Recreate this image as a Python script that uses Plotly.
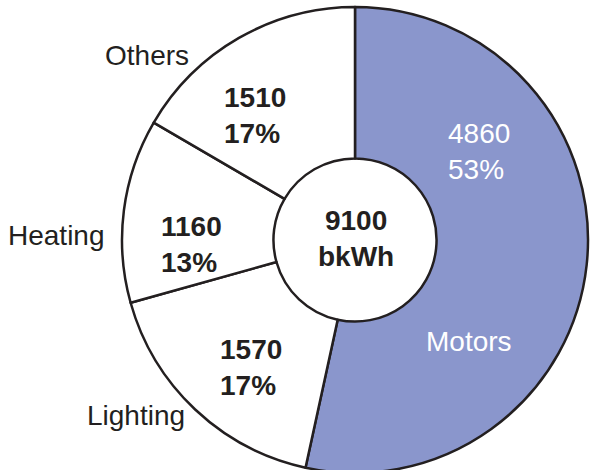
import plotly.graph_objects as go

labels = ["Motors", "Lighting", "Heating", "Others"]
values = [4860, 1570, 1160, 1510]
percents = ["53%", "17%", "13%", "17%"]
total_value = "9100"
total_unit = "bkWh"

W, H = 591, 474  # slightly taller than the window so the ring bleeds off the bottom
DARK = "#231f20"
FONT = "Liberation Sans, Arial, Helvetica, sans-serif"

def px(x, y):
    return x / W, 1 - y / H

fig = go.Figure()
fig.add_trace(go.Pie(
    labels=labels, values=values,
    sort=False, direction="clockwise", rotation=0,
    hole=0.35,
    marker=dict(colors=["#8A96CC", "white", "white", "white"],
                line=dict(color=DARK, width=2.5)),
    textinfo="none", hoverinfo="skip", showlegend=False,
    domain=dict(x=[122 / W, 588 / W], y=[1 / H, 467 / H]),
))

anns = []
def add(text, x, y, xanchor="center", color=DARK, align="center"):
    xx, yy = px(x, y)
    anns.append(dict(text=text, x=xx, y=yy, xref="paper", yref="paper",
                     xanchor=xanchor, yanchor="middle", showarrow=False,
                     align=align,
                     font=dict(family=FONT, size=28, color=color)))

# outside category labels
add(labels[3], 147, 55)
add(labels[2], 56, 235)
add(labels[1], 136, 415)
add(labels[0], 469, 341, color="white")

# values / percents
def vp(i, x, y, color=DARK, bold=True):
    v, p = str(values[i]), percents[i]
    t = f"<b>{v}</b><br><b>{p}</b>" if bold else f"{v}<br>{p}"
    add(t, x, y, xanchor="left", color=color, align="left")

vp(3, 222, 115)
vp(2, 159, 244)
vp(1, 218, 367)
vp(0, 446, 151, color="white", bold=False)

add(f"<b>{total_value}</b><br><b>{total_unit}</b>", 356, 238)

fig.update_layout(
    width=W, height=H, margin=dict(l=0, r=0, t=0, b=0),
    paper_bgcolor="white", plot_bgcolor="white",
    annotations=anns,
)
fig.write_html("out.html", config={"displayModeBar": False},
               post_script="document.body.style.margin='0px';document.body.style.overflow='hidden';")
